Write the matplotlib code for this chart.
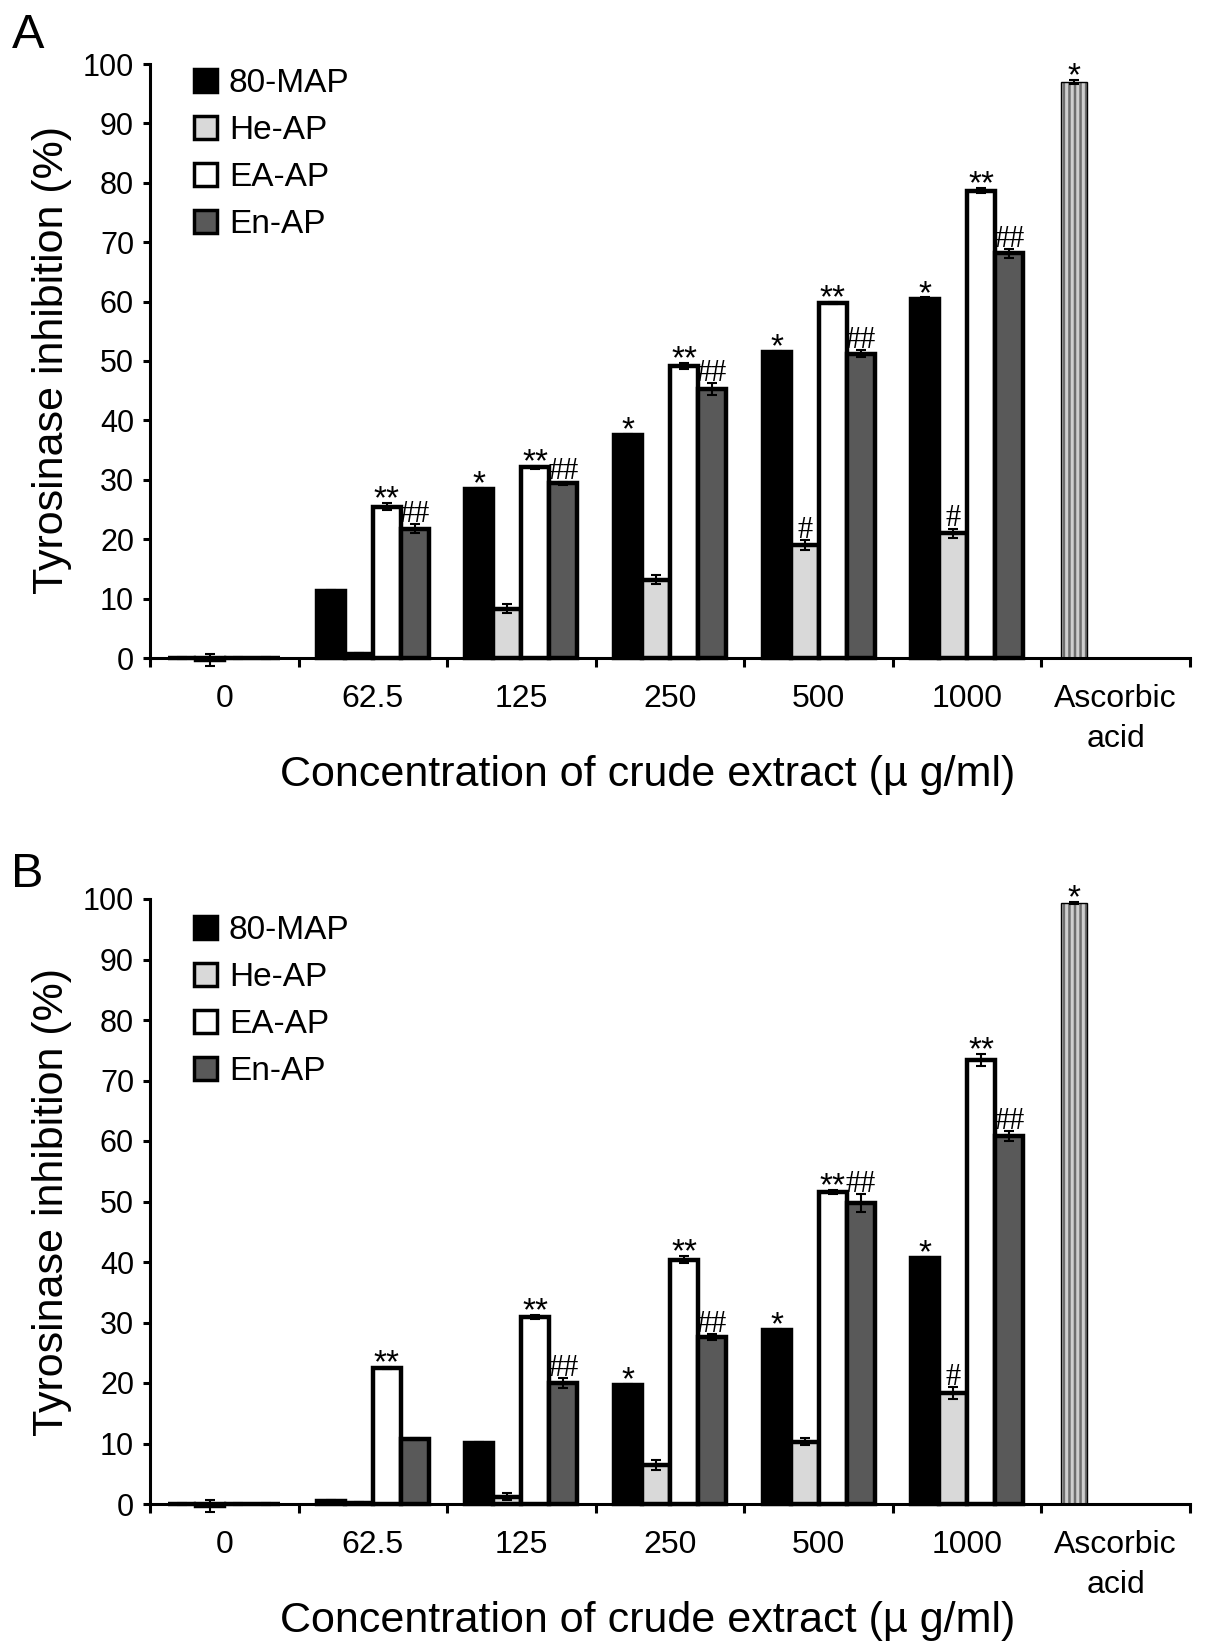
import numpy as np
import matplotlib
matplotlib.use('Agg')
import matplotlib.pyplot as plt
from matplotlib.patches import Patch

plt.rcParams['font.family'] = ['Liberation Sans', 'DejaVu Sans']
plt.rcParams['hatch.linewidth'] = 1.8

# categories
groups = ['0', '62.5', '125', '250', '500', '1000']
all_labels = groups + ['Ascorbic\nacid']
series = ['80-MAP', 'He-AP', 'EA-AP', 'En-AP']
colors = ['black', '#d9d9d9', 'white', '#595959']

# panel A values (%)
map_a = [0.0, 11.2, 28.5, 37.5, 51.5, 60.5]
he_a = [-0.3, 0.6, 8.3, 13.2, 19.0, 21.0]
ea_a = [0.0, 25.5, 32.1, 49.2, 59.8, 78.7]
en_a = [0.0, 21.8, 29.4, 45.3, 51.2, 68.1]
map_a_err = [0.2, 0.2, 0.2, 0.2, 0.2, 0.2]
he_a_err = [1.0, 0.3, 0.8, 0.8, 0.8, 0.8]
ea_a_err = [0.2, 0.6, 0.3, 0.5, 0.2, 0.5]
en_a_err = [0.2, 0.8, 0.3, 1.0, 0.6, 0.7]
asc_a = 97.0
asc_a_err = 0.3

# panel B values (%)
map_b = [0.0, 0.5, 10.1, 19.7, 28.8, 40.6]
he_b = [-0.3, 0.2, 1.2, 6.5, 10.3, 18.4]
ea_b = [0.0, 22.5, 30.9, 40.4, 51.6, 73.4]
en_b = [0.0, 10.7, 20.0, 27.6, 49.8, 60.8]
map_b_err = [0.2, 0.2, 0.2, 0.2, 0.2, 0.2]
he_b_err = [1.0, 0.2, 0.6, 0.8, 0.6, 1.0]
ea_b_err = [0.2, 0.2, 0.4, 0.6, 0.3, 1.0]
en_b_err = [0.2, 0.2, 0.8, 0.5, 1.5, 0.8]
asc_b = 99.3
asc_b_err = 0.2

# significance marks
marks_a = [['', '', '*', '*', '*', '*'],
           ['', '', '', '', '#', '#'],
           ['', '**', '**', '**', '**', '**'],
           ['', '##', '##', '##', '##', '##']]
marks_b = [['', '', '', '*', '*', '*'],
           ['', '', '', '', '', '#'],
           ['', '**', '**', '**', '**', '**'],
           ['', '', '##', '##', '##', '##']]

W, H = 1205, 1652
fig = plt.figure(figsize=(W / 100, H / 100), dpi=100)


def add_mark(ax, xpos, top, text):
    if not text:
        return
    if '#' in text:
        ax.annotate(text, (xpos, top), xytext=(0, 1.5), textcoords='offset points',
                    ha='center', va='baseline', fontsize=22, family='Liberation Serif')
    else:
        ax.annotate(text, (xpos, top), xytext=(0, -4), textcoords='offset points',
                    ha='center', va='baseline', fontsize=24)


def draw_panel(rect, vals, errs, marks, asc, asc_err, letter, letter_xy, xlab_y, ylab_y, leg_y):
    ax = fig.add_axes(rect)
    x = np.arange(len(groups))
    width = 0.1884
    offs = (np.arange(4) - 1.5) * width
    for k in range(4):
        ax.bar(x + offs[k], vals[k], width, color=colors[k], edgecolor='black',
               linewidth=3.2, zorder=2)
        ax.errorbar(x + offs[k], vals[k], yerr=errs[k], fmt='none', ecolor='black',
                    elinewidth=1.5, capsize=3.6, capthick=1.5, zorder=3)
        for i in range(len(groups)):
            add_mark(ax, x[i] + offs[k], vals[k][i] + errs[k][i], marks[k][i])

    # ascorbic acid bar, striped
    xa = 6 + offs[0]
    ax.bar(xa, asc, 0.175, color='#cfcfcf', edgecolor='#6e6e6e', hatch='|||',
           linewidth=0, zorder=2)
    ax.bar(xa, asc, 0.175, fill=False, edgecolor='black', linewidth=1, zorder=2)
    ax.errorbar(xa, asc, yerr=asc_err, fmt='none', ecolor='black',
                elinewidth=1.5, capsize=3.6, capthick=1.5, zorder=3)
    add_mark(ax, xa, asc + asc_err, '*')

    ax.set_xlim(-0.5, 6.5)
    ax.set_ylim(-2, 100)
    ax.spines['top'].set_visible(False)
    ax.spines['right'].set_visible(False)
    ax.spines['bottom'].set_position(('data', 0))
    ax.spines['left'].set_bounds(0, 100)
    for s in ['left', 'bottom']:
        ax.spines[s].set_linewidth(2.2)

    ax.set_xticks(np.arange(-0.5, 7, 1))
    ax.set_xticklabels([])
    ax.set_xticks(np.arange(7), minor=True)
    ax.set_xticklabels(all_labels, minor=True)
    ax.tick_params(axis='x', which='major', direction='out', length=6.5, width=2.2)
    ax.tick_params(axis='x', which='minor', length=0, pad=19, labelsize=23)
    for lbl in ax.get_xticklabels(minor=True):
        lbl.set_linespacing(1.4)
    ax.set_yticks(np.arange(0, 101, 10))
    ax.tick_params(axis='y', direction='out', length=5, width=2.2, labelsize=22, pad=6.5)

    handles = [Patch(facecolor=c, edgecolor='black', linewidth=2.5) for c in colors]
    ax.legend(handles, series, loc='upper left', bbox_to_anchor=(194 / W, 1 - leg_y / H),
              bbox_transform=fig.transFigure, frameon=False, fontsize=24,
              handlelength=0.7, handleheight=0.7, handletextpad=0.35, labelspacing=0.48,
              borderpad=0, borderaxespad=0)

    fig.text(letter_xy[0] / W, 1 - letter_xy[1] / H, letter, fontsize=35,
             ha='left', va='baseline')
    fig.text(648 / W, 1 - xlab_y / H, 'Concentration of crude extract (\u00b5 g/ml)',
             fontsize=31, ha='center', va='baseline')
    fig.text(63 / W, 1 - ylab_y / H, 'Tyrosinase inhibition (%)', fontsize=31,
             rotation=90, rotation_mode='anchor', ha='center', va='baseline')
    return ax


def rect_px(left, right, top, bottom):
    return [left / W, 1 - bottom / H, (right - left) / W, (bottom - top) / H]


# panel A: y=0 at 658 px, y=100 at 64 px
draw_panel(rect_px(150, 1190, 64, 658 + 2 * 5.94),
           [map_a, he_a, ea_a, en_a], [map_a_err, he_a_err, ea_a_err, en_a_err],
           marks_a, asc_a, asc_a_err, 'A', (12, 48), 786, 360, 68)

# panel B: y=0 at 1504 px, y=100 at 899 px
draw_panel(rect_px(150, 1190, 899, 1504 + 2 * 6.05),
           [map_b, he_b, ea_b, en_b], [map_b_err, he_b_err, ea_b_err, en_b_err],
           marks_b, asc_b, asc_b_err, 'B', (11, 887), 1632, 1202, 915)

fig.savefig('out.png', dpi=100)
